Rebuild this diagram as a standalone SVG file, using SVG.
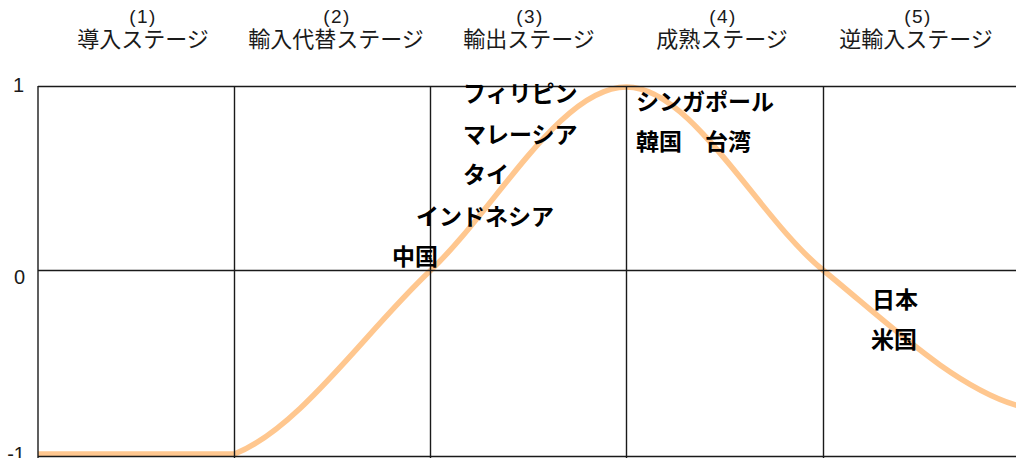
<svg xmlns="http://www.w3.org/2000/svg" width="1016" height="458" viewBox="0 0 1016 458">
  <style>
    .grid { stroke: #1a1a1a; stroke-width: 1.4; fill: none; }
    .curve { stroke: #FFC78F; stroke-width: 5.5; fill: none; stroke-linejoin: round; }
    .num { font-family: "Liberation Sans", Arial, sans-serif; font-size: 19px; fill: #1a1a1a; letter-spacing: 1.5px; text-anchor: middle; }
    .stage { font-family: "Noto Sans CJK JP", "Noto Sans", sans-serif; font-size: 22px; fill: #1a1a1a; text-anchor: middle; }
    .axis { font-family: "Liberation Sans", Arial, sans-serif; font-size: 20px; fill: #1a1a1a; text-anchor: end; }
    .country { font-family: "Noto Sans CJK JP", "Noto Sans", sans-serif; font-size: 23px; font-weight: 700; fill: #000; }
  </style>
  <rect width="1016" height="458" fill="#ffffff"/>

  <g id="curve">
    <path class="curve" d="M38,454 L234.5,454 C300,428 365,332 430.5,270.5 C495.5,209 560.5,87 626.5,87 C692,87 757.5,217 823.5,270.5 C889,324 955,388 1019,406"/>
  </g>

  <g id="grid">
    <line class="grid" x1="38" y1="86.5" x2="1016" y2="86.5"/>
    <line class="grid" x1="38" y1="270.5" x2="1016" y2="270.5"/>
    <line class="grid" x1="38" y1="456.5" x2="1016" y2="456.5"/>
    <line class="grid" x1="38" y1="86" x2="38" y2="458"/>
    <line class="grid" x1="234.5" y1="86" x2="234.5" y2="458"/>
    <line class="grid" x1="430.5" y1="86" x2="430.5" y2="458"/>
    <line class="grid" x1="626.5" y1="86" x2="626.5" y2="458"/>
    <line class="grid" x1="823.5" y1="86" x2="823.5" y2="458"/>
  </g>

  <g id="axis-labels">
    <text class="axis" x="24" y="92">1</text>
    <text class="axis" x="25" y="284">0</text>
    <text class="axis" x="25" y="461">-1</text>
  </g>

  <g id="stage1">
    <text class="num" x="143" y="23">(1)</text>
    <text class="stage" x="143" y="47">導入ステージ</text>
  </g>
  <g id="stage2">
    <text class="num" x="337" y="23">(2)</text>
    <text class="stage" x="336" y="47">輸入代替ステージ</text>
  </g>
  <g id="stage3">
    <text class="num" x="530" y="23">(3)</text>
    <text class="stage" x="529" y="47">輸出ステージ</text>
  </g>
  <g id="stage4">
    <text class="num" x="723" y="23">(4)</text>
    <text class="stage" x="722" y="47">成熟ステージ</text>
  </g>
  <g id="stage5">
    <text class="num" x="918" y="23">(5)</text>
    <text class="stage" x="916" y="47">逆輸入ステージ</text>
  </g>

  <g id="countries">
    <text class="country" x="463" y="102">フィリピン</text>
    <text class="country" x="463" y="143">マレーシア</text>
    <text class="country" x="463" y="183">タイ</text>
    <text class="country" x="416" y="225">インドネシア</text>
    <text class="country" x="392" y="265">中国</text>
    <text class="country" x="636" y="110">シンガポール</text>
    <text class="country" x="636" y="150">韓国　台湾</text>
    <text class="country" x="872" y="308">日本</text>
    <text class="country" x="871" y="348">米国</text>
  </g>
</svg>
